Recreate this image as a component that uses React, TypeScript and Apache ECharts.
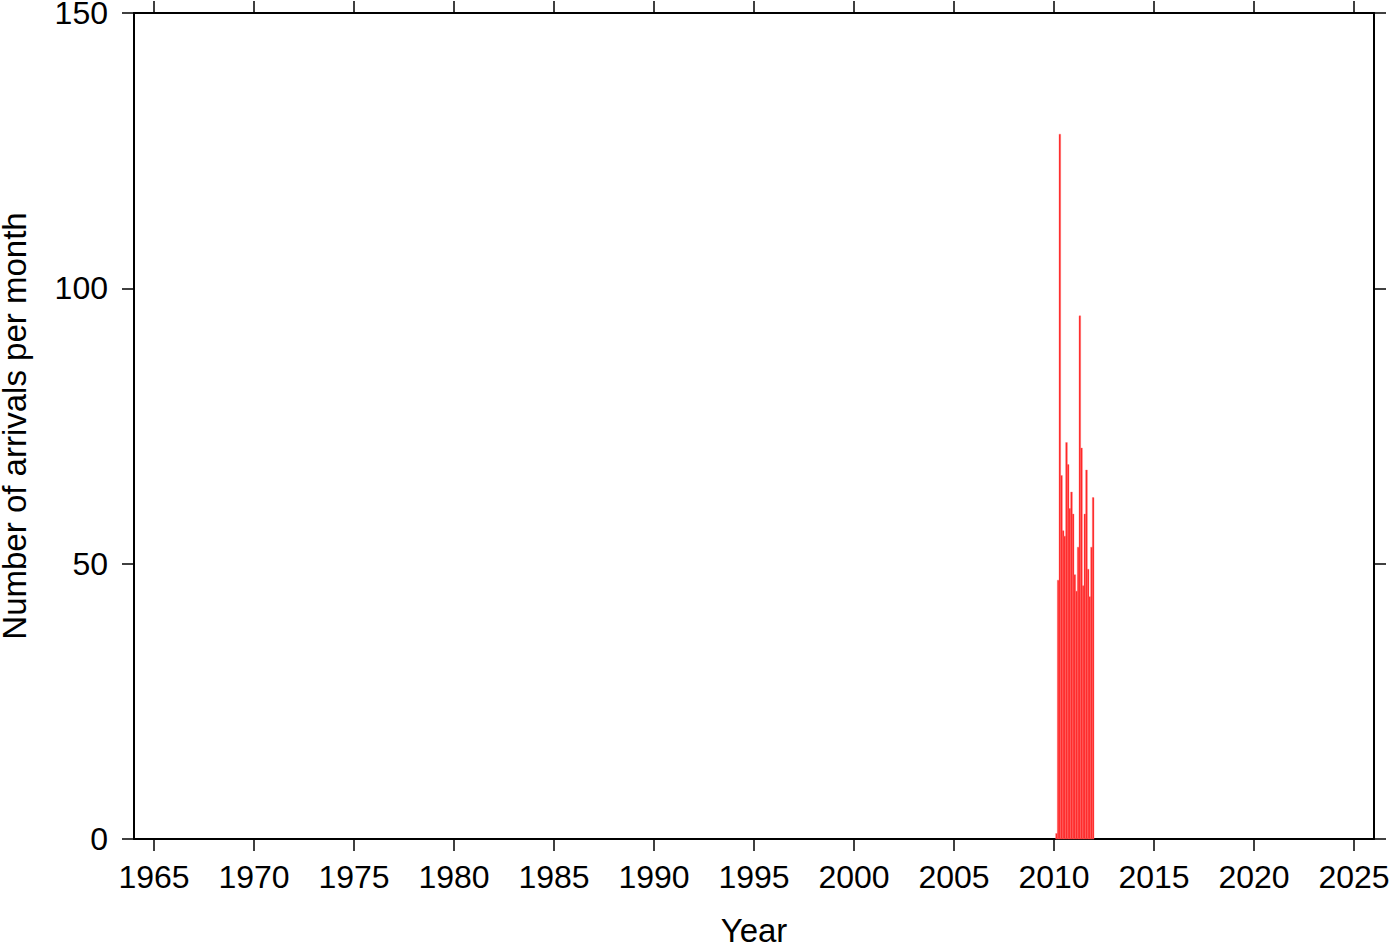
import React, { useEffect, useRef } from "react";
import * as echarts from "echarts";

// Monthly arrival counts, starting Feb 2010 (month index 1 of 2010)
const startYear = 2010;
const startMonth = 1; // 0 = January
const monthlyCounts = [1, 47, 128, 66, 56, 55, 72, 68, 60, 63, 59, 48, 45, 53, 95, 71, 46, 59, 67, 49, 44, 53, 62];
const yearTicks = [1965, 1970, 1975, 1980, 1985, 1990, 1995, 2000, 2005, 2010, 2015, 2020, 2025];
const xMin = 1964;
const xMax = 2026;

export default function App() {
  const ref = useRef<HTMLDivElement>(null);
  useEffect(() => {
    document.body.style.margin = "0";
    const chart = echarts.init(ref.current!, null, { renderer: "svg" });
    const data = monthlyCounts.map((v, i) => {
      const m = startMonth + i;
      const x0 = startYear + m / 12;
      return [x0, x0 + 1 / 12, v];
    });
    const font = "Liberation Sans, Arial, Helvetica, sans-serif";
    const lineStyle = { color: "#000", width: 2 };
    const tickStyle = { color: "#000", width: 1.5 };
    chart.setOption({
      animation: false,
      grid: { left: 134, right: 26, top: 13, bottom: 103, show: false, containLabel: false, outerBoundsMode: "none" },
      xAxis: [
        {
          type: "value",
          min: xMin,
          max: xMax,
          position: "bottom",
          name: "Year",
          nameLocation: "middle",
          nameGap: 75,
          nameTextStyle: { fontSize: 33, color: "#000", fontFamily: font },
          axisLine: { show: true, onZero: false, lineStyle },
          axisTick: { show: true, length: 12, lineStyle: tickStyle, customValues: yearTicks },
          axisLabel: {
            show: true, fontSize: 32, color: "#000", fontFamily: font, margin: 22,
            customValues: yearTicks, formatter: (v: number) => String(v),
          },
          splitLine: { show: false },
        },
        {
          type: "value",
          min: xMin,
          max: xMax,
          position: "top",
          axisLine: { show: true, onZero: false, lineStyle },
          axisTick: { show: true, length: 12, lineStyle: tickStyle, customValues: yearTicks },
          axisLabel: { show: false },
          splitLine: { show: false },
        },
      ],
      yAxis: [
        {
          type: "value",
          min: 0,
          max: 150,
          interval: 50,
          position: "left",
          name: "Number of arrivals per month",
          nameLocation: "middle",
          nameGap: 103,
          nameRotate: 90,
          nameTextStyle: { fontSize: 33, color: "#000", fontFamily: font },
          axisLine: { show: true, onZero: false, lineStyle },
          axisTick: { show: true, length: 12, lineStyle: tickStyle },
          axisLabel: { show: true, fontSize: 32, color: "#000", fontFamily: font, margin: 26, formatter: (v: number) => String(v) },
          splitLine: { show: false },
        },
        {
          type: "value",
          min: 0,
          max: 150,
          interval: 50,
          position: "right",
          axisLine: { show: true, onZero: false, lineStyle },
          axisTick: { show: true, length: 12, lineStyle: tickStyle },
          axisLabel: { show: false },
          splitLine: { show: false },
        },
      ],
      series: [
        {
          type: "custom",
          xAxisIndex: 0,
          yAxisIndex: 0,
          data,
          encode: { x: [0, 1], y: 2 },
          renderItem: (params: any, api: any) => {
            const p0 = api.coord([api.value(0), api.value(2)]);
            const p1 = api.coord([api.value(1), 0]);
            return {
              type: "rect",
              shape: { x: p0[0], y: p0[1], width: p1[0] - p0[0], height: p1[1] - p0[1] },
              style: { fill: "#ff2020", stroke: "#ff7070", lineWidth: 0.4 },
            };
          },
        },
      ],
    });
    return () => chart.dispose();
  }, []);
  return <div ref={ref} style={{ width: 1400, height: 942 }} />;
}
